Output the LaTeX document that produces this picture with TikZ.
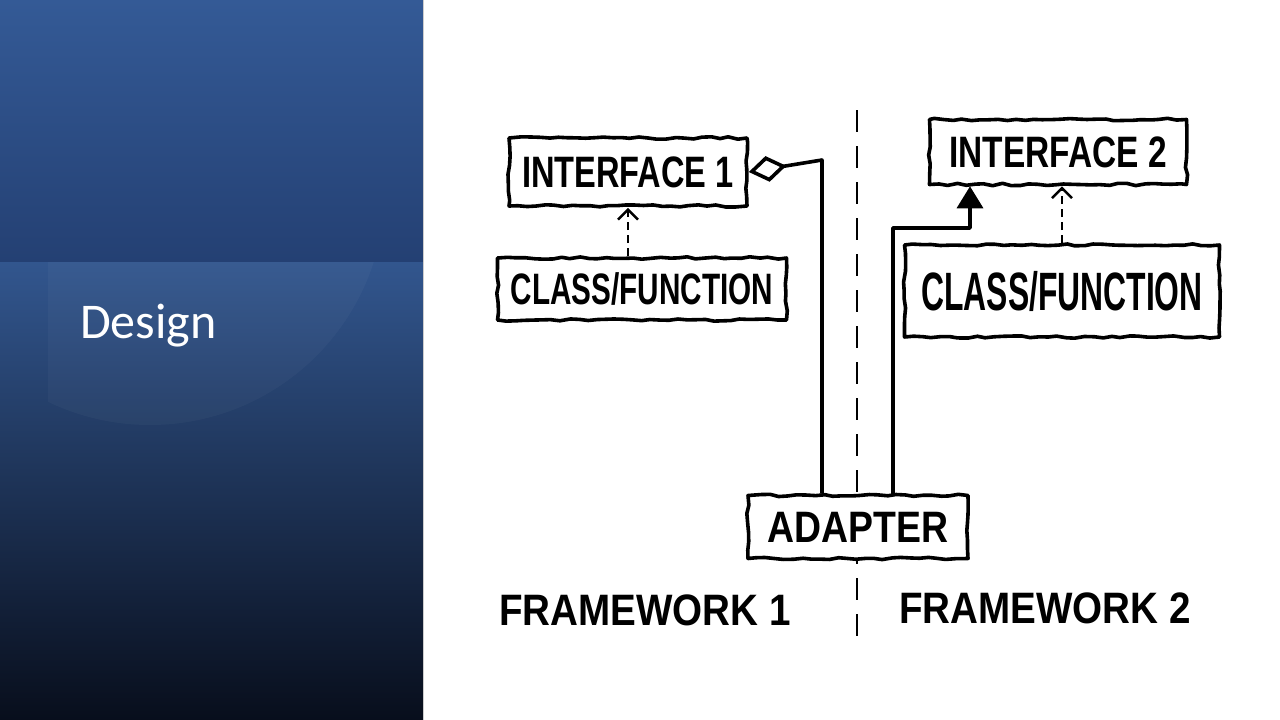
\documentclass[tikz,border=0pt]{standalone}
\usepackage{graphicx}
\usepackage{fontspec}
\setmainfont{Liberation Sans}
\newfontfamily\titlefont{Carlito}
\usetikzlibrary{arrows.meta,decorations.pathmorphing}
\definecolor{topA}{RGB}{52,90,150}
\definecolor{topB}{RGB}{36,64,115}
\definecolor{lowA}{RGB}{50,86,142}
\definecolor{lowM}{RGB}{30,52,95}
\definecolor{lowB}{RGB}{8,14,28}
\newcommand{\handtxt}[2]{\scalebox{#1}[1]{#2}}
\begin{document}
\begin{tikzpicture}[x=1pt,y=-1pt,
  sketch/.style={draw=black, line width=3.6pt, line join=round,
    decorate, decoration={random steps, segment length=9pt, amplitude=1.2pt}},
  box/.style={sketch, fill=white, inner sep=0pt, font=\bfseries\fontsize{44}{48}\selectfont},
  conn/.style={draw=black, line width=3.6pt, line join=round},
  dep/.style={draw=black, line width=2.5pt, dash pattern=on 8pt off 5pt,
    -{Straight Barb[length=10pt,width=20pt]}},
  hand/.style={font=\bfseries\fontsize{44}{48}\selectfont, inner sep=0pt},
  divider/.style={draw=black, line width=2.5pt, dash pattern=on 22pt off 14pt}]
\pgfmathsetseed{7}
\useasboundingbox (0,0) rectangle (1280,720);
\fill[white] (0,0) rectangle (1280,720);
% left panel
\shade[top color=topA, bottom color=topB] (0,0) rectangle (423,262);
\shade[top color=lowA, middle color=lowM, bottom color=lowB] (0,262) rectangle (423,720);
\begin{scope}
  \clip (48,262) rectangle (423,720);
  \fill[white, opacity=0.03] (150,190) circle (235);
\end{scope}
\draw[gray!40, line width=1pt] (423.5,0) -- (423.5,720);
\node[anchor=base west, text=white, inner sep=0pt,
  font=\titlefont\fontsize{50}{54}\selectfont] (design) at (80,338) {Design};
% divider
\coordinate (dtop) at (857,110);
\coordinate (dbot) at (857,640);
\draw[divider] (dtop) -- (dbot);
% boxes
\node[box, minimum width=238pt, minimum height=68pt] (i1) at (628,172) {\handtxt{0.74}{INTERFACE 1}};
\node[box, minimum width=289pt, minimum height=62pt] (c1) at (642,289) {\handtxt{0.675}{CLASS/FUNCTION}};
\node[box, minimum width=257pt, minimum height=65pt] (i2) at (1058,152) {\handtxt{0.76}{INTERFACE 2}};
\node[box, minimum width=315pt, minimum height=92pt, font=\bfseries\fontsize{54}{58}\selectfont] (c2) at (1062,291) {\handtxt{0.59}{CLASS/FUNCTION}};
\node[box, minimum width=220pt, minimum height=63pt] (ad) at (858,527) {\handtxt{0.85}{ADAPTER}};
% connectors
\coordinate (p1) at (822,160);
\draw[conn, -{Diamond[open, length=38pt, width=26pt]}] (ad.north -| p1) -- (p1) -- (i1.east);
\coordinate (q1) at (893,228);
\coordinate (q2) at (970,228);
\draw[conn, -{Triangle[length=22pt, width=26pt]}] (ad.north -| q1) -- (q1) -- (q2) -- (q2 |- i2.south);
\draw[dep] (c1.north -| i1.south) -- (i1.south);
\draw[dep] (c2.north) -- (c2.north |- i2.south);
% labels
\node[hand] (fw1) at (645,610) {\handtxt{0.877}{FRAMEWORK 1}};
\node[hand] (fw2) at (1045,608) {\handtxt{0.877}{FRAMEWORK 2}};
\end{tikzpicture}
\end{document}
